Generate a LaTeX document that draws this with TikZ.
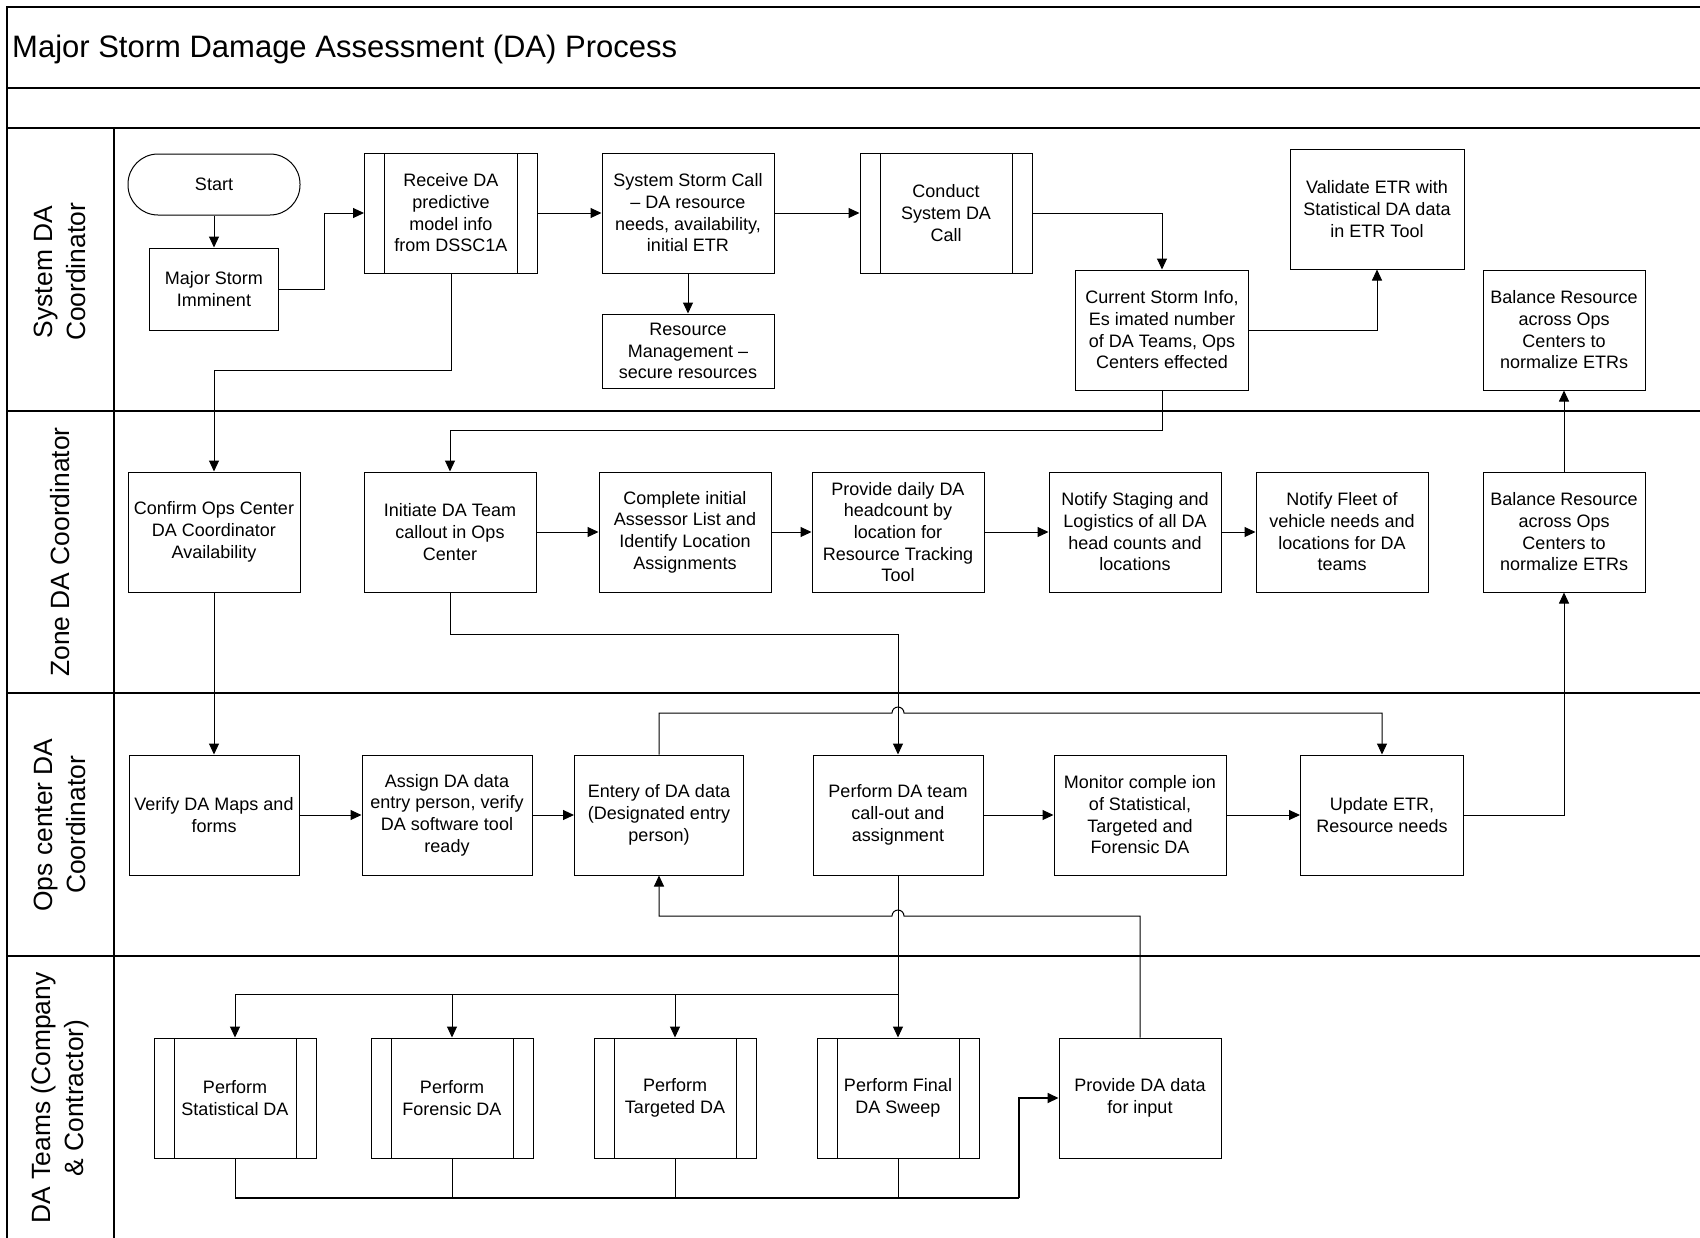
\documentclass[tikz,border=0pt]{standalone}
\usepackage{fontspec}
\setmainfont{Liberation Sans}
\usetikzlibrary{arrows.meta}
\begin{document}
\begin{tikzpicture}[x=1pt, y=-1pt,
  frame/.style={line width=2pt},
  lane/.style={line width=1.5pt},
  box/.style={draw, line width=1pt, minimum width=172pt, minimum height=120pt,
    align=center, inner sep=2pt, font=\fontsize{18}{21.7}\selectfont},
  sub/.style={box, path picture={
    \draw[line width=1pt] ([xshift=20pt]path picture bounding box.north west) -- ([xshift=20pt]path picture bounding box.south west);
    \draw[line width=1pt] ([xshift=-20pt]path picture bounding box.north east) -- ([xshift=-20pt]path picture bounding box.south east);}},
  conn/.style={line width=1pt},
  arr/.style={conn, -{Triangle[length=11pt,width=10pt]}},
  lanelabel/.style={rotate=90, align=center, font=\fontsize{26.4}{32.5}\selectfont}
]
\useasboundingbox (0,0) rectangle (1700,1237);
\clip (0,0) rectangle (1700,1237);

% pool frame and swimlanes
\draw[frame] (7,1250) -- (7,7) -- (1710,7);
\draw[frame] (7,88) -- (1710,88);
\draw[lane] (7,128) -- (1710,128);
\draw[lane] (7,411) -- (1710,411);
\draw[lane] (7,693) -- (1710,693);
\draw[lane] (7,956) -- (1710,956);
\draw[lane] (114,128) -- (114,1250);

\node[anchor=west, inner sep=0pt, font=\fontsize{31}{37}\selectfont] (title) at (12,49) {Major Storm Damage Assessment (DA) Process};

\node[lanelabel] (l1) at (60,272) {System DA\\Coordinator};
\node[lanelabel] (l2) at (60,552) {Zone DA Coordinator};
\node[lanelabel] (l3) at (60,825) {Ops center DA\\Coordinator};
\node[lanelabel] (l4) at (60,1098) {DA Teams (Company\\\& Contractor)};

% System DA Coordinator lane
\node[box, rounded corners=30pt, minimum height=61pt] (start) at (214,184.5) {Start};
\node[box, minimum width=129pt, minimum height=82pt] (ms) at (214,289) {Major Storm\\Imminent};
\node[sub, minimum width=173pt] (rec) at (451,213) {Receive DA\\predictive\\model info\\from DSSC1A};
\node[box] (ssc) at (688,213) {System Storm Call\\– DA resource\\needs, availability,\\initial ETR};
\node[box, minimum height=74pt] (rm) at (688,351) {Resource\\Management –\\secure resources};
\node[sub] (cond) at (946,213) {Conduct\\System DA\\Call};
\node[box, minimum width=174pt] (val) at (1377,209) {Validate ETR with\\Statistical DA data\\in ETR Tool};
\node[box, minimum width=173pt] (cur) at (1162,330) {Current Storm Info,\\Es imated number\\of DA Teams, Ops\\Centers effected};
\node[box, minimum width=162pt] (bal1) at (1564,330) {Balance Resource\\across Ops\\Centers to\\normalize ETRs};

% Zone DA Coordinator lane
\node[box] (conf) at (214,532) {Confirm Ops Center\\DA Coordinator\\Availability};
\node[box] (init) at (450,532) {Initiate DA Team\\callout in Ops\\Center};
\node[box] (comp) at (685,532) {Complete initial\\Assessor List and\\Identify Location\\Assignments};
\node[box] (pdd) at (898,532) {Provide daily DA\\headcount by\\location for\\Resource Tracking\\Tool};
\node[box] (stag) at (1135,532) {Notify Staging and\\Logistics of all DA\\head counts and\\locations};
\node[box] (fleet) at (1342,532) {Notify Fleet of\\vehicle needs and\\locations for DA\\teams};
\node[box, minimum width=162pt] (bal2) at (1564,532) {Balance Resource\\across Ops\\Centers to\\normalize ETRs};

% Ops center DA Coordinator lane
\node[box, minimum width=170pt] (ver) at (214,815) {Verify DA Maps and\\forms};
\node[box, minimum width=170pt] (asg) at (447,815) {Assign DA data\\entry person, verify\\DA software tool\\ready};
\node[box, minimum width=169pt] (ent) at (659,815) {Entery of DA data\\(Designated entry\\person)};
\node[box, minimum width=170pt] (pda) at (898,815) {Perform DA team\\call-out and\\assignment};
\node[box] (mon) at (1140,815) {Monitor comple ion\\of Statistical,\\Targeted and\\Forensic DA};
\node[box, minimum width=163pt] (upd) at (1382,815) {Update ETR,\\Resource needs};

% DA Teams lane
\node[sub, minimum width=162pt] (stat) at (235,1098) {Perform\\Statistical DA};
\node[sub, minimum width=162pt] (for) at (452,1098) {Perform\\Forensic DA};
\node[sub, minimum width=162pt] (tar) at (675,1098) {Perform\\Targeted DA};
\node[sub, minimum width=162pt] (fin) at (898,1098) {Perform Final\\DA Sweep};
\node[box, minimum width=162pt] (pdi) at (1140,1098) {Provide DA data\\for input};

% connectors
\draw[arr] (start.south) -- (ms.north);
\draw[arr] (ms.east) -- ++(45,0) |- (rec.west);
\draw[arr] (rec.south) -- ++(0,97) -| (conf.north);
\draw[arr] (rec.east) -- (ssc.west);
\draw[arr] (ssc.south) -- (rm.north);
\draw[arr] (ssc.east) -- (cond.west);
\draw[arr] (cond.east) -| (cur.north);
\draw[arr] (cur.east) -| (val.south);
\draw[arr] (cur.south) -- ++(0,40) -| (init.north);

\draw[arr] (conf.south) -- (ver.north);
\draw[arr] (init.east) -- (comp.west);
\draw[arr] (comp.east) -- (pdd.west);
\draw[arr] (pdd.east) -- (stag.west);
\draw[arr] (stag.east) -- (fleet.west);
\draw[arr] (init.south) -- ++(0,42) -| (pda.north);
\draw[arr] (bal2.north) -- (bal1.south);

\draw[arr] (ver.east) -- (asg.west);
\draw[arr] (asg.east) -- (ent.west);
\draw[arr] (pda.east) -- (mon.west);
\draw[arr] (mon.east) -- (upd.west);
\draw[arr] (upd.east) -| (bal2.south);
\draw[arr] (ent.north) |- (892,713) arc[start angle=180, end angle=360, radius=6] -| (upd.north);
\draw[arr] (pdi.north) |- (904,916) arc[start angle=0, end angle=-180, radius=6] -| (ent.south);

\coordinate (split) at (898,994);
\draw[conn] (pda.south) -- (split);
\draw[arr] (split) -- (fin.north);
\draw[arr] (split) -| (stat.north);
\draw[arr] (split) -| (for.north);
\draw[arr] (split) -| (tar.north);

\coordinate (bus) at (1019,1198);
\draw[conn] (stat.south) -- (stat.south |- bus);
\draw[conn] (for.south) -- (for.south |- bus);
\draw[conn] (tar.south) -- (tar.south |- bus);
\draw[conn] (fin.south) -- (fin.south |- bus);
\draw[conn, line width=1.8pt] (stat.south |- bus) -- (bus);
\draw[arr, line width=1.8pt] (bus) |- (pdi.west);
\end{tikzpicture}
\end{document}
